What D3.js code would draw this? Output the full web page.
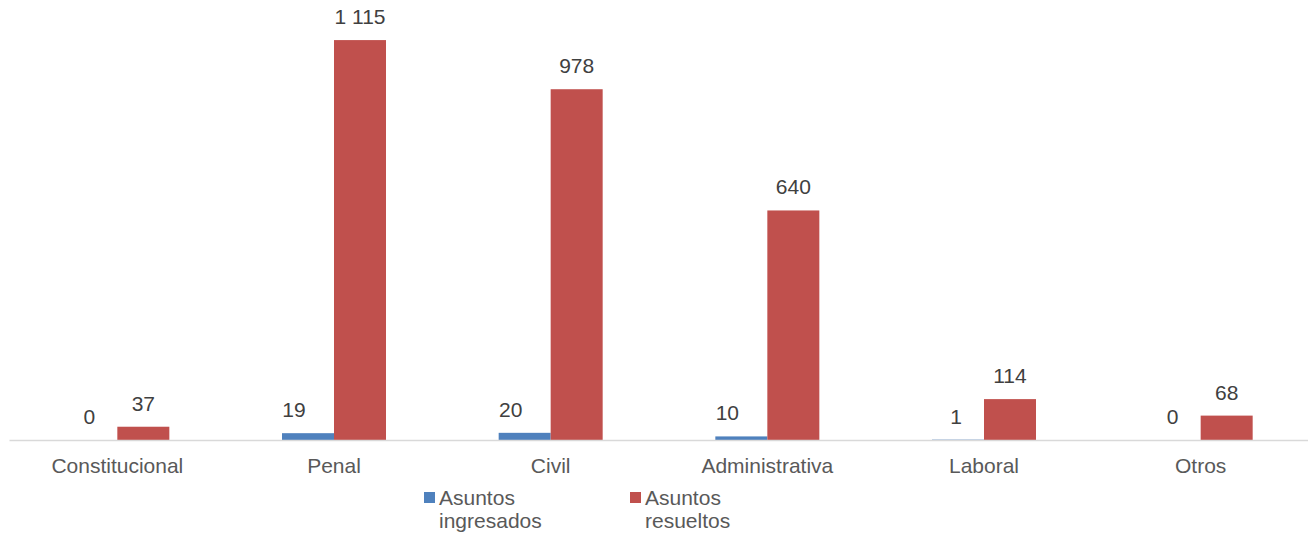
<!DOCTYPE html>
<html><head><meta charset="utf-8">
<script src="https://cdn.jsdelivr.net/npm/d3@7/dist/d3.min.js"></script>
<style>body{margin:0;background:#fff;} text{font-family:"Liberation Sans",Arial,sans-serif;}</style>
</head><body>
<svg id="c" width="1308" height="533"></svg>
<script>
const categories = ["Constitucional","Penal","Civil","Administrativa","Laboral","Otros"];
const ingresados = [0,19,20,10,1,0];
const resueltos = [37,1115,978,640,114,68];
const seriesNames = ["Asuntos ingresados","Asuntos resueltos"];
const colors = ["#4f81bd","#c0504d"];
const FS = 21;

const svg = d3.select("#c");
const x0 = d3.scaleBand().domain(categories).range([9,1309]).paddingInner(0).paddingOuter(0);
const groupW = 104;
const x1 = d3.scaleBand().domain([0,1]).range([0,groupW]);
const y = d3.scaleLinear().domain([0,1200]).range([440,9.6]);

const data = categories.map((c,i)=>({c, v:[ingresados[i],resueltos[i]]}));
const g = svg.append("g");
data.forEach(d=>{
  const gx = x0(d.c) + (x0.bandwidth()-groupW)/2;
  d.v.forEach((v,s)=>{
    g.append("rect").attr("x",gx+x1(s)).attr("width",x1.bandwidth())
      .attr("y",y(v)).attr("height",440-y(v)).attr("fill",colors[s]);
    const fmt = v>=1000 ? d3.format(",")(v).replace(",", " ") : String(v);
    const cx = gx+x1(s)+x1.bandwidth()/2 + (s===0 ? (v>=10?-14:-2) : 0);
    g.append("text").attr("x",cx).attr("y",y(v)-(s===0?16:16))
      .attr("text-anchor","middle").attr("font-size",FS).attr("fill","#404040").text(fmt);
  });
});
// axis
const ax = svg.append("g").attr("transform","translate(0,440)").call(d3.axisBottom(x0).tickSize(0).tickPadding(18));
ax.select(".domain").attr("stroke","#d9d9d9").attr("stroke-width",1.5);
ax.selectAll("text").attr("font-size",FS).attr("fill","#595959").attr("font-family","Liberation Sans, Arial, sans-serif");

// legend
const legX = [424,630];
seriesNames.forEach((n,i)=>{
  const lg = svg.append("g").attr("transform",`translate(${legX[i]},0)`);
  lg.append("rect").attr("x",0).attr("y",492).attr("width",11).attr("height",11).attr("fill",colors[i]);
  const parts = n.split(" ");
  lg.append("text").attr("x",15).attr("y",505).attr("font-size",FS).attr("fill","#595959").text(parts[0]);
  lg.append("text").attr("x",15).attr("y",528).attr("font-size",FS).attr("fill","#595959").text(parts[1]);
});
</script>
</body></html>
